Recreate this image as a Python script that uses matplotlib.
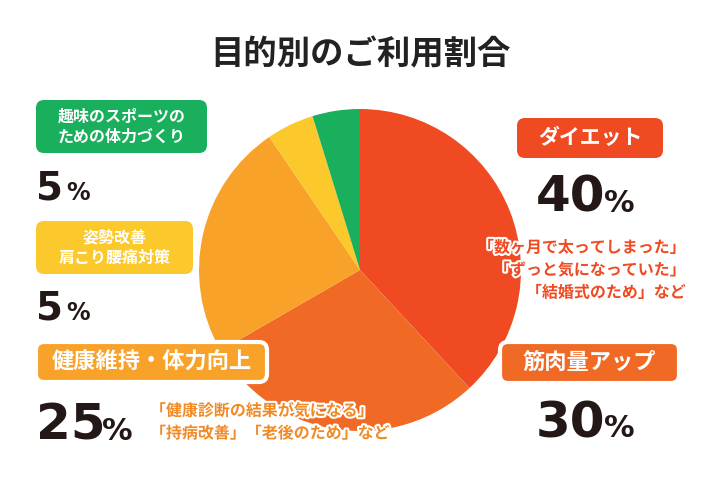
import matplotlib
matplotlib.use("Agg")
import matplotlib.pyplot as plt
import matplotlib.patheffects as pe
from matplotlib.patches import FancyBboxPatch

plt.rcParams["font.family"] = "Noto Sans CJK JP"

title = "目的別のご利用割合"
labels = ["ダイエット", "筋肉量アップ", "健康維持・体力向上", "姿勢改善\n肩こり腰痛対策", "趣味のスポーツの\nための体力づくり"]
values = [40, 30, 25, 5, 5]
colors = ["#F04A23", "#F06A25", "#F9A22A", "#FBC92B", "#19AF5C"]
notes = ["「数ヶ月で太ってしまった」\n「ずっと気になっていた」\n「結婚式のため」など",
         "「健康診断の結果が気になる」\n「持病改善」「老後のため」など"]

fig = plt.figure(figsize=(7.2, 4.8), dpi=100)
ax = fig.add_axes([0, 0, 1, 1])

ax.pie(values, colors=colors, startangle=90, counterclock=False,
       center=(360, -270), radius=161, frame=True)
ax.set_xlim(0, 720)
ax.set_ylim(-480, 0)
ax.set_aspect("equal")
ax.axis("off")

ax.text(360, -55, title, ha="center", va="center", fontsize=24, fontweight="bold", color="#222222")


def box(x0, y0, x1, y1, color, text, fs, border=False):
    p = FancyBboxPatch((x0, -y1), x1 - x0, y1 - y0, boxstyle="round,pad=0,rounding_size=8",
                       fc=color, ec="white" if border else "none", lw=3 if border else 0, zorder=5)
    ax.add_patch(p)
    ax.text((x0 + x1) / 2, -(y0 + y1) / 2, text, ha="center", va="center", color="white",
            fontsize=fs, fontweight="bold", linespacing=1.35, zorder=6)


def pct(x, y, num, fs, pfs, pgap):
    ax.text(x, y, num, fontsize=fs, fontweight="bold", color="#231815",
            family="DejaVu Sans", zorder=6)
    ax.text(x + pgap, y, "%", fontsize=pfs, fontweight="bold", color="#231815",
            family="DejaVu Sans", zorder=6)


box(517, 118, 663, 158, colors[0], labels[0], 15)
box(500, 342, 679, 383, colors[1], labels[1], 16, border=True)
box(36, 342, 267, 382, colors[2], labels[2], 16, border=True)
box(36, 221, 193, 274, colors[3], labels[3], 11.5)
box(36, 100, 207, 153, colors[4], labels[4], 11.5)

pct(36, -200, "5", 28, 17, 30)
pct(36, -320, "5", 28, 17, 30)
pct(36, -440, "25", 36, 22, 66)
pct(536, -212, "40", 36, 22, 68)
pct(536, -437, "30", 36, 22, 68)

stroke = [pe.withStroke(linewidth=3, foreground="white")]
ax.text(686, -270, notes[0], ha="right", va="center", fontsize=11.5, color=colors[0],
        linespacing=1.5, fontweight="bold", path_effects=stroke, zorder=7)
ax.text(150, -422, notes[1], ha="left", va="center", fontsize=11.5, color="#F08A25",
        linespacing=1.5, fontweight="bold", path_effects=stroke, zorder=7)

fig.savefig("out.png", dpi=100)
